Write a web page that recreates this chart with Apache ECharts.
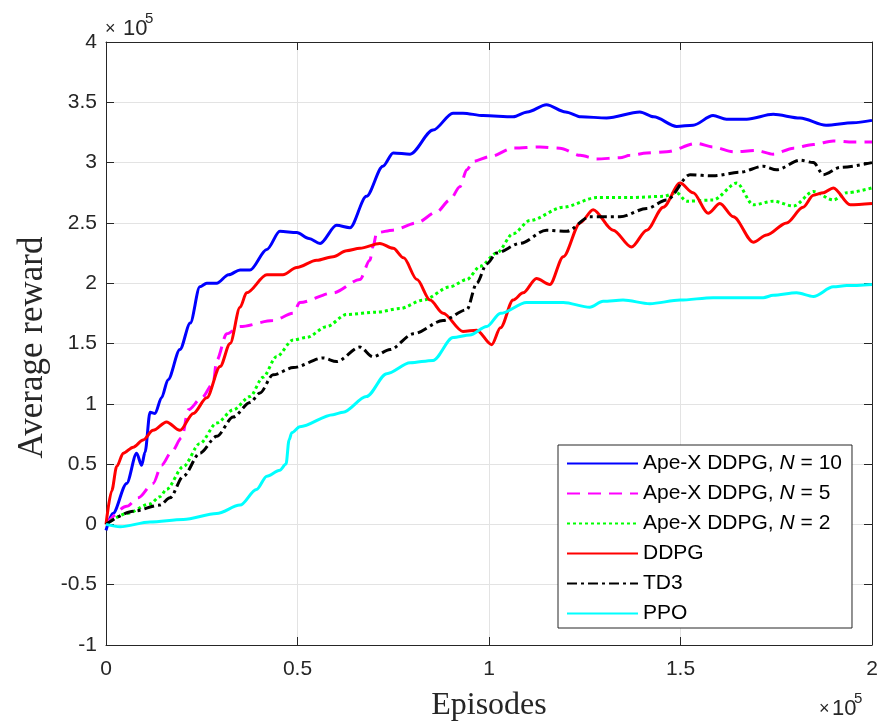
<!DOCTYPE html>
<html>
<head>
<meta charset="utf-8">
<script src="https://cdn.jsdelivr.net/npm/echarts@6/dist/echarts.min.js"></script>
<style>
  html, body { margin: 0; padding: 0; background: #ffffff; }
  #chart { width: 878px; height: 721px; }
</style>
</head>
<body>
<div id="chart"></div>
<script>
// Episodes and rewards are both in units of 1e5.
const xTicks = [0, 0.5, 1, 1.5, 2];
const yTicks = [-1, -0.5, 0, 0.5, 1, 1.5, 2, 2.5, 3, 3.5, 4];

const seriesNames = [
  'Ape-X DDPG, N = 10',
  'Ape-X DDPG, N = 5',
  'Ape-X DDPG, N = 2',
  'DDPG',
  'TD3',
  'PPO'
];

const apexN10 = [[0,-0.05],[0.018,0.09],[0.054,0.34],[0.08,0.59],[0.093,0.49],[0.102,0.60],[0.115,0.93],[0.128,0.92],[0.145,1.05],[0.162,1.20],[0.193,1.45],[0.22,1.67],[0.245,1.97],[0.263,2.0],[0.289,2.0],[0.32,2.07],[0.35,2.11],[0.376,2.11],[0.42,2.28],[0.454,2.43],[0.498,2.42],[0.53,2.37],[0.559,2.33],[0.602,2.48],[0.637,2.46],[0.68,2.72],[0.723,2.97],[0.75,3.08],[0.794,3.07],[0.854,3.27],[0.906,3.41],[0.932,3.41],[0.985,3.39],[1.063,3.38],[1.1,3.42],[1.15,3.48],[1.2,3.42],[1.24,3.38],[1.307,3.37],[1.394,3.42],[1.43,3.38],[1.49,3.30],[1.533,3.31],[1.585,3.39],[1.62,3.36],[1.673,3.36],[1.742,3.40],[1.812,3.37],[1.88,3.31],[1.95,3.33],[2.0,3.35]];

const apexN5 = [[0,0],[0.054,0.15],[0.084,0.22],[0.123,0.34],[0.145,0.49],[0.171,0.60],[0.198,0.72],[0.215,0.95],[0.25,1.05],[0.28,1.17],[0.289,1.36],[0.315,1.58],[0.35,1.64],[0.436,1.69],[0.489,1.75],[0.506,1.84],[0.593,1.92],[0.663,2.03],[0.689,2.19],[0.697,2.30],[0.707,2.42],[0.749,2.44],[0.811,2.50],[0.863,2.59],[0.898,2.69],[0.924,2.80],[0.942,2.94],[0.959,3.01],[1.003,3.05],[1.063,3.12],[1.133,3.13],[1.185,3.12],[1.238,3.06],[1.281,3.03],[1.342,3.04],[1.368,3.06],[1.412,3.08],[1.464,3.09],[1.542,3.16],[1.585,3.13],[1.638,3.09],[1.699,3.10],[1.742,3.07],[1.795,3.12],[1.847,3.15],[1.899,3.18],[1.95,3.17],[2.0,3.17]];

const apexN2 = [[0,0],[0.054,0.09],[0.115,0.17],[0.141,0.23],[0.158,0.29],[0.202,0.48],[0.245,0.67],[0.289,0.84],[0.332,0.95],[0.376,1.06],[0.41,1.22],[0.445,1.39],[0.489,1.53],[0.524,1.55],[0.576,1.64],[0.628,1.74],[0.707,1.76],[0.768,1.79],[0.828,1.86],[0.898,1.97],[0.942,2.03],[0.977,2.14],[1.02,2.25],[1.063,2.41],[1.107,2.52],[1.194,2.63],[1.281,2.71],[1.368,2.71],[1.455,2.72],[1.49,2.75],[1.516,2.68],[1.585,2.69],[1.647,2.83],[1.69,2.65],[1.742,2.68],[1.795,2.64],[1.847,2.76],[1.899,2.69],[1.934,2.75],[2.0,2.79]];

const ddpg = [[0,0],[0.015,0.28],[0.028,0.48],[0.045,0.59],[0.071,0.64],[0.097,0.70],[0.123,0.78],[0.158,0.85],[0.193,0.78],[0.228,0.92],[0.263,1.05],[0.298,1.31],[0.324,1.50],[0.35,1.80],[0.367,1.92],[0.42,2.07],[0.462,2.07],[0.498,2.13],[0.55,2.19],[0.593,2.22],[0.628,2.27],[0.663,2.29],[0.715,2.33],[0.75,2.29],[0.777,2.21],[0.812,2.03],[0.846,1.86],[0.88,1.75],[0.932,1.60],[0.968,1.61],[1.007,1.49],[1.03,1.63],[1.063,1.86],[1.089,1.92],[1.124,2.04],[1.159,1.99],[1.194,2.22],[1.238,2.50],[1.272,2.61],[1.324,2.44],[1.372,2.30],[1.412,2.44],[1.455,2.63],[1.499,2.83],[1.533,2.75],[1.572,2.58],[1.603,2.66],[1.638,2.55],[1.69,2.34],[1.725,2.40],[1.777,2.50],[1.82,2.63],[1.847,2.73],[1.873,2.75],[1.899,2.79],[1.943,2.65],[2.0,2.66]];

const td3 = [[0,0],[0.071,0.11],[0.141,0.16],[0.167,0.22],[0.202,0.40],[0.245,0.59],[0.289,0.73],[0.332,0.89],[0.376,1.01],[0.402,1.09],[0.436,1.24],[0.489,1.30],[0.567,1.38],[0.602,1.35],[0.663,1.47],[0.697,1.39],[0.742,1.45],[0.802,1.58],[0.88,1.69],[0.942,1.78],[0.968,2.00],[0.994,2.16],[1.02,2.25],[1.081,2.33],[1.15,2.44],[1.203,2.43],[1.263,2.55],[1.342,2.55],[1.412,2.62],[1.464,2.69],[1.525,2.90],[1.585,2.89],[1.655,2.92],[1.716,2.97],[1.751,2.94],[1.812,3.02],[1.847,3.00],[1.873,2.90],[1.917,2.96],[2.0,3.00]];

const ppo = [[0,0],[0.037,-0.02],[0.115,0.02],[0.202,0.04],[0.289,0.09],[0.35,0.16],[0.393,0.29],[0.42,0.40],[0.454,0.45],[0.47,0.50],[0.478,0.70],[0.485,0.76],[0.506,0.81],[0.593,0.91],[0.619,0.93],[0.68,1.06],[0.733,1.25],[0.794,1.34],[0.854,1.36],[0.906,1.55],[0.95,1.57],[0.994,1.64],[1.03,1.75],[1.098,1.84],[1.194,1.84],[1.263,1.80],[1.298,1.85],[1.35,1.86],[1.42,1.83],[1.499,1.86],[1.585,1.88],[1.716,1.88],[1.742,1.90],[1.803,1.92],[1.847,1.89],[1.899,1.97],[1.934,1.98],[2.0,1.99]];

const seriesData = [apexN10, apexN5, apexN2, ddpg, td3, ppo];
const seriesColors = ['#0000ff', '#ff00ff', '#00ff00', '#ff0000', '#000000', '#00ffff'];
const seriesDash = ['solid', [13, 8], [3, 3], 'solid', [10, 4, 3, 4], 'solid'];

const axisColor = '#262626';
const gridColor = '#e3e3e3';
const sansFont = '"Liberation Sans", Arial, Helvetica, sans-serif';
const serifFont = '"Liberation Serif", "Times New Roman", serif';

const chart = echarts.init(document.getElementById('chart'), null, { renderer: 'canvas' });

function baseX(pos, showLabels) {
  return {
    type: 'value', position: pos, min: xTicks[0], max: xTicks[xTicks.length - 1],
    interval: xTicks[1] - xTicks[0],
    axisLine: { show: true, onZero: false, lineStyle: { color: axisColor, width: 1 } },
    axisTick: { show: true, inside: true, length: 8, lineStyle: { color: axisColor } },
    axisLabel: { show: showLabels, fontSize: 21, color: axisColor, fontFamily: sansFont, margin: 14 },
    splitLine: { show: showLabels, lineStyle: { color: gridColor, width: 1 } }
  };
}
function baseY(pos, showLabels) {
  return {
    type: 'value', position: pos, min: yTicks[0], max: yTicks[yTicks.length - 1],
    interval: yTicks[1] - yTicks[0],
    axisLine: { show: true, onZero: false, lineStyle: { color: axisColor, width: 1 } },
    axisTick: { show: true, inside: true, length: 8, lineStyle: { color: axisColor } },
    axisLabel: { show: showLabels, fontSize: 21, color: axisColor, fontFamily: sansFont, margin: 9 },
    splitLine: { show: showLabels, lineStyle: { color: gridColor, width: 1 } }
  };
}

const xMain = baseX('bottom', true);
Object.assign(xMain, {
  name: 'Episodes', nameLocation: 'middle', nameGap: 45,
  nameTextStyle: { fontFamily: serifFont, fontSize: 32, color: axisColor }
});
const yMain = baseY('left', true);
Object.assign(yMain, {
  name: 'Average reward', nameLocation: 'middle', nameGap: 56,
  nameTextStyle: { fontFamily: serifFont, fontSize: 35, color: axisColor, padding: [0, 8, 0, 0] }
});

const option = {
  animation: false,
  backgroundColor: '#ffffff',
  grid: { left: 106, top: 42, right: 6, bottom: 76, containLabel: false, outerBoundsMode: 'none' },
  xAxis: [xMain, baseX('top', false)],
  yAxis: [yMain, baseY('right', false)],
  legend: {
    left: 558, top: 445, orient: 'vertical',
    backgroundColor: '#ffffff', borderColor: axisColor, borderWidth: 1,
    padding: [8, 10, 4, 8],
    itemWidth: 71, itemHeight: 20, itemGap: 9,
    itemStyle: { opacity: 0, borderWidth: 0 },
    textStyle: {
      fontSize: 21, fontFamily: sansFont, color: '#000000', lineHeight: 20,
      rich: { it: { fontSize: 21, fontFamily: sansFont, fontStyle: 'italic', color: '#000000', lineHeight: 20 } }
    },
    formatter: function (name) {
      return name.replace(/N =/, '{it|N} =');
    },
    data: seriesNames
  },
  series: seriesNames.map(function (name, i) {
    return {
      name: name, type: 'line', xAxisIndex: 0, yAxisIndex: 0,
      data: seriesData[i], showSymbol: false, symbol: 'none',
      smooth: 0.3, smoothMonotone: 'x',
      lineStyle: { color: seriesColors[i], width: 3, type: seriesDash[i], cap: 'butt' },
      itemStyle: { color: seriesColors[i] },
      z: 2 + i
    };
  }),
  graphic: [
    // exponent marker above the y axis
    { type: 'text', left: 105, top: 20, style: { text: '×', font: '18px ' + sansFont, fill: axisColor } },
    { type: 'text', left: 123, top: 18, style: { text: '10', font: '22px ' + sansFont, fill: axisColor } },
    { type: 'text', left: 145, top: 11, style: { text: '5', font: '15px ' + sansFont, fill: axisColor } },
    // exponent marker right of the x axis
    { type: 'text', left: 819, top: 700, style: { text: '×', font: '18px ' + sansFont, fill: axisColor } },
    { type: 'text', left: 832, top: 698, style: { text: '10', font: '22px ' + sansFont, fill: axisColor } },
    { type: 'text', left: 854, top: 691, style: { text: '5', font: '15px ' + sansFont, fill: axisColor } }
  ]
};

chart.setOption(option);
</script>
</body>
</html>
